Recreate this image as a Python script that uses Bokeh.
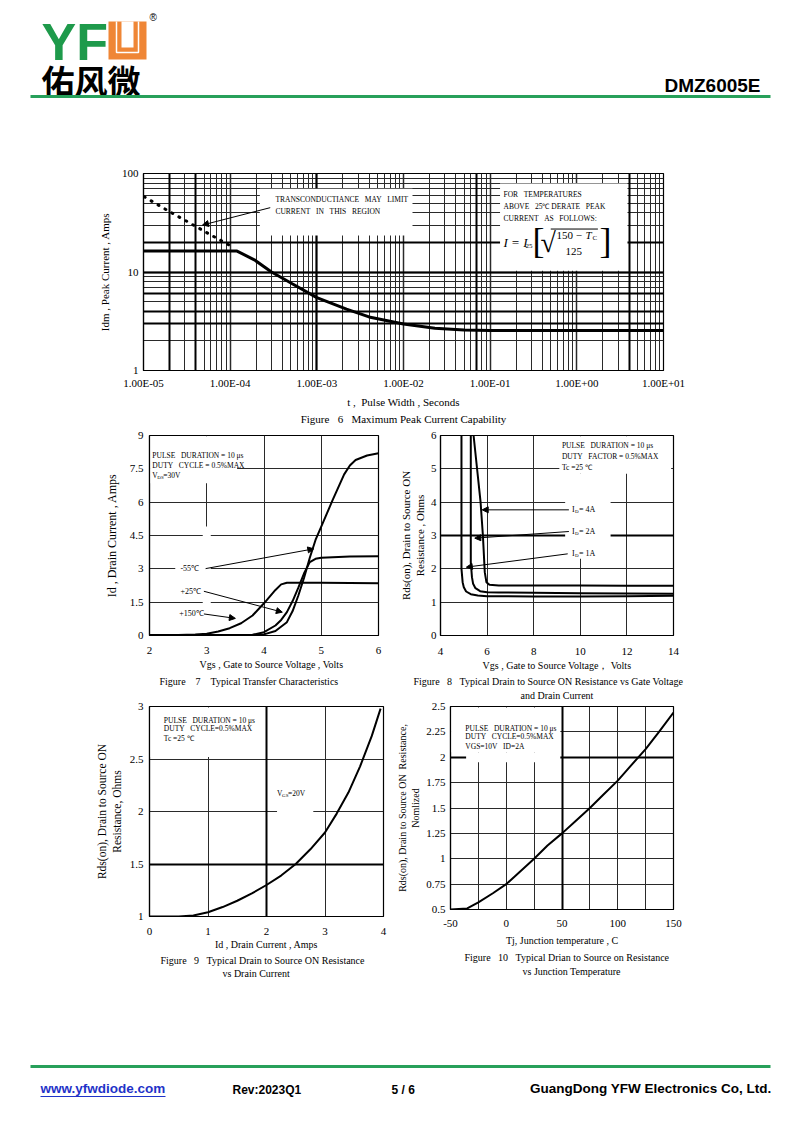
from bokeh.plotting import figure
from bokeh.layouts import column, row
from bokeh.models import (Range1d, FixedTicker, CustomJSTickFormatter, Grid, Title,
                          Arrow, NormalHead)
from bokeh.core.properties import value
from bokeh.embed import file_html
from bokeh.resources import INLINE

SERIF = "Liberation Serif"
SANS = "Liberation Sans"
CJK = "Noto Sans CJK SC"
GRID = "#2a2a2a"
GREEN = "#27a05a"
SP = "\u00a0"

# ---------------- DATA ----------------
# Figure 6 : Maximum peak current capability (log-log)
f6_x_ticks = [1e-5, 1e-4, 1e-3, 1e-2, 1e-1, 1.0, 10.0]
f6_y_ticks = [1, 10, 100]
f6_pulse = [1e-5, 1.2e-4, 1.9e-4, 3e-4, 5.2e-4, 1e-3, 2.2e-3, 4e-3, 1e-2, 2.3e-2, 5e-2, 1e-1, 1.0, 10.0]
f6_idm = [16.3, 16.3, 13.3, 10.0, 7.6, 5.5, 4.2, 3.5, 2.96, 2.68, 2.57, 2.55, 2.55, 2.55]
f6_limit_pulse = [1.02e-5, 2e-5, 5e-5, 1.12e-4]
f6_limit_idm = [58, 41, 26, 17.5]

# Figure 7 : transfer characteristics
f7_x_ticks = [2, 3, 4, 5, 6]
f7_y_ticks = [0, 1.5, 3, 4.5, 6, 7.5, 9]
f7_vgs_m55 = [2.0, 3.8, 4.0, 4.2, 4.4, 4.5, 4.6, 4.7, 4.8, 4.9, 5.0, 5.2, 5.4, 5.5, 5.6, 5.8, 6.0]
f7_id_m55 = [0.02, 0.02, 0.05, 0.2, 0.6, 1.1, 1.8, 2.6, 3.5, 4.3, 4.9, 6.1, 7.25, 7.65, 7.9, 8.1, 8.2]
f7_vgs_25 = [2.0, 3.8, 4.0, 4.2, 4.3, 4.4, 4.5, 4.6, 4.7, 4.8, 4.9, 5.0, 5.5, 6.0]
f7_id_25 = [0.02, 0.03, 0.15, 0.45, 0.7, 1.05, 1.55, 2.15, 2.8, 3.3, 3.45, 3.5, 3.55, 3.57]
f7_vgs_150 = [2.0, 2.5, 2.8, 3.0, 3.2, 3.4, 3.6, 3.8, 4.0, 4.1, 4.2, 4.3, 4.4, 5.0, 6.0]
f7_id_150 = [0.02, 0.02, 0.04, 0.08, 0.18, 0.33, 0.55, 0.9, 1.45, 1.75, 2.05, 2.3, 2.37, 2.37, 2.35]
f7_labels = ["-55\u2103", "+25\u2103", "+150\u2103"]

# Figure 8 : Rds(on) vs Vgs
f8_x_ticks = [4, 6, 8, 10, 12, 14]
f8_y_ticks = [0, 1, 2, 3, 4, 5, 6]
f8_vgs_1a = [4.9, 4.9, 4.95, 5.0, 5.1, 5.3, 5.6, 6.0, 8.0, 10.0, 12.0, 14.0]
f8_r_1a = [6.0, 2.0, 1.6, 1.45, 1.32, 1.24, 1.2, 1.18, 1.17, 1.17, 1.18, 1.19]
f8_vgs_2a = [5.3, 5.3, 5.35, 5.4, 5.5, 5.7, 6.0, 6.5, 8.0, 10.0, 12.0, 14.0]
f8_r_2a = [6.0, 2.2, 1.75, 1.55, 1.42, 1.33, 1.3, 1.29, 1.28, 1.27, 1.26, 1.25]
f8_vgs_4a = [5.42, 5.6, 5.72, 5.82, 5.9, 5.97, 6.1, 6.5, 8.0, 10.0, 12.0, 14.0]
f8_r_4a = [6.0, 4.8, 4.0, 3.0, 1.9, 1.6, 1.52, 1.5, 1.5, 1.5, 1.49, 1.49]
f8_labels = ["4A", "2A", "1A"]

# Figure 9 : Rds(on) vs drain current
f9_x_ticks = [0, 1, 2, 3, 4]
f9_y_ticks = [1, 1.5, 2, 2.5, 3]
f9_id = [0, 0.5, 0.75, 1.0, 1.25, 1.5, 1.75, 2.0, 2.25, 2.5, 2.75, 3.0, 3.2, 3.4, 3.6, 3.8, 3.95]
f9_rds = [1.0, 1.0, 1.01, 1.04, 1.09, 1.15, 1.22, 1.3, 1.39, 1.5, 1.64, 1.8, 1.98, 2.18, 2.43, 2.72, 2.98]

# Figure 10 : normalized Rds(on) vs junction temperature
f10_x_ticks = [-50, 0, 50, 100, 150]
f10_y_ticks = [0.5, 0.75, 1, 1.25, 1.5, 1.75, 2, 2.25, 2.5]
f10_tj = [-50, -35, -25, -12, 0, 12, 25, 37, 50, 62, 75, 87, 100, 112, 125, 137, 150]
f10_rds = [0.5, 0.51, 0.57, 0.66, 0.75, 0.87, 1.0, 1.13, 1.25, 1.37, 1.5, 1.63, 1.77, 1.92, 2.08, 2.25, 2.44]

NUM_CODE = "return String(Math.round(tick*1000)/1000);"
EXP_CODE = """
const e = Math.round(Math.log10(tick));
const s = e < 0 ? '-' : '+';
const a = Math.abs(e);
return '1.00E' + s + (a < 10 ? '0' : '') + a;
"""


def make_chart(w, h, bl, br, bt, bb, xr, yr, xt="linear", yt="linear"):
    p = figure(width=w, height=h, x_range=xr, y_range=yr, x_axis_type=xt, y_axis_type=yt,
               output_backend="svg", toolbar_location=None, title=None,
               min_border_left=bl, min_border_right=br, min_border_top=bt, min_border_bottom=bb)
    p.frame_align = False
    p.outline_line_color = "black"
    p.outline_line_width = 1.2
    p.background_fill_color = "white"
    p.border_fill_color = "white"
    for ax in (p.xaxis[0], p.yaxis[0]):
        ax.axis_line_color = "black"
        ax.axis_line_width = 1.2
        ax.major_tick_line_color = None
        ax.minor_tick_line_color = None
        ax.major_tick_out = 0
        ax.major_tick_in = 0
        ax.minor_tick_out = 0
        ax.minor_tick_in = 0
        ax.major_label_text_font = SERIF
        ax.major_label_text_font_size = "11px"
        ax.major_label_text_color = "black"
        ax.axis_label_text_font = SERIF
        ax.axis_label_text_font_size = "11px"
        ax.axis_label_text_font_style = "normal"
        ax.axis_label_text_color = "black"
    for g in (p.xgrid[0], p.ygrid[0]):
        g.grid_line_color = GRID
        g.grid_line_width = 1
    return p


def page_fig(h, y0):
    p = figure(width=800, height=h, x_range=Range1d(0, 800), y_range=Range1d(y0 + h, y0),
               output_backend="svg", toolbar_location=None, title=None, min_border=0,
               x_axis_location=None, y_axis_location=None)
    p.frame_align = False
    p.outline_line_color = None
    p.grid.visible = False
    return p


def thick_grid(p, dim, ticks, width=2.0):
    p.add_layout(Grid(dimension=dim, ticker=FixedTicker(ticks=ticks),
                      grid_line_color="black", grid_line_width=width))


def caption(p, text, offset=0, standoff=2, size="10px", align="center"):
    p.add_layout(Title(text=text, align=align, offset=offset, standoff=standoff,
                       text_font=SERIF, text_font_size=size, text_font_style="normal",
                       text_color="black"), "below")


def txt(p, x, y, s, size="7.5px", xo=0, yo=0, align="left", style="normal",
        font=SERIF, baseline="middle", color="black"):
    p.text(x=[x], y=[y], text=[s], x_offset=xo, y_offset=yo, text_font=value(font),
           text_font_size=value(size), text_font_style=style, text_align=align,
           text_baseline=baseline, text_color=color)


def arrow(p, x0, y0, x1, y1):
    p.add_layout(Arrow(x_start=x0, y_start=y0, x_end=x1, y_end=y1, line_color="black",
                       line_width=1,
                       end=NormalHead(size=6, fill_color="black", line_color="black",
                                      line_width=1)))


def blank(p, l, r, b, t):
    p.quad(left=[l], right=[r], bottom=[b], top=[t], fill_color="white", line_color=None)


def gap(n):
    return SP * n


# ---------------- header (page pixels) ----------------
hd = page_fig(160, 0)
txt(hd, 41, 41, "YF", size="52px", style="bold", font=SANS, color="#1e9a4b")
hd.quad(left=[108], right=[146], top=[21], bottom=[59], fill_color="#ef8636", line_color=None)
hd.quad(left=[121], right=[133], top=[21], bottom=[47], fill_color="white", line_color=None)
hd.multi_line(xs=[[116, 116, 138, 138]], ys=[[21, 52, 52, 21]], line_color="white",
              line_width=1.5)
txt(hd, 149, 17, "\u00ae", size="10px", font=SANS)
txt(hd, 41, 79, "佑风微", size="33px", style="bold", font=CJK)
txt(hd, 760, 85, "DMZ6005E", size="19px", style="bold", font=SANS, align="right")
hd.segment(x0=[30], y0=[96], x1=[770], y1=[96], line_color=GREEN, line_width=3)

# ---------------- figure 6 ----------------
p6 = make_chart(800, 268, 143, 137, 13, 58, Range1d(1e-5, 10), Range1d(1, 100), "log", "log")
p6.xaxis.ticker = FixedTicker(ticks=f6_x_ticks)
p6.xaxis.formatter = CustomJSTickFormatter(code=EXP_CODE)
p6.yaxis.ticker = FixedTicker(ticks=f6_y_ticks)
p6.yaxis.formatter = CustomJSTickFormatter(code="return String(Math.round(tick));")
f6_xminor = [m * 10.0 ** e for e in range(-5, 1) for m in range(2, 10)]
f6_yminor = [m * 10.0 ** e for e in range(0, 2) for m in range(2, 10)]
p6.xgrid.ticker = FixedTicker(ticks=f6_x_ticks, minor_ticks=f6_xminor)
p6.ygrid.ticker = FixedTicker(ticks=f6_y_ticks, minor_ticks=f6_yminor)
p6.xgrid.minor_grid_line_color = GRID
p6.ygrid.minor_grid_line_color = GRID
p6.xgrid.grid_line_width = 1.5
p6.ygrid.grid_line_width = 1.5
thick_grid(p6, 0, [2e-5, 4e-5, 1e-3, 7e-2, 4.0])
thick_grid(p6, 1, [3, 4, 6, 20, 10])
p6.xaxis.axis_label = "t ," + gap(2) + "Pulse Width , Seconds"
p6.yaxis.axis_label = "Idm , Peak Current , Amps"
p6.xaxis.major_label_standoff = 6
p6.xaxis.axis_label_standoff = 4
p6.yaxis.major_label_standoff = 5
p6.yaxis.axis_label_standoff = 8
caption(p6, "Figure" + gap(3) + "6" + gap(3) + "Maximum Peak Current Capability",
        standoff=1, size="11px")
blank(p6, 2.2e-4, 1.27e-2, 23.5, 70)
blank(p6, 0.13, 3.84, 10.3, 79)
p6.line(f6_limit_pulse, f6_limit_idm, line_color="black", line_width=3, line_dash="1 7",
        line_cap="round")
p6.line(f6_pulse, f6_idm, line_color="black", line_width=3)
txt(p6, 3.33e-4, 54.5, "TRANSCONDUCTIANCE" + gap(3) + "MAY" + gap(3) + "LIMIT")
txt(p6, 3.33e-4, 41.1, "CURRENT" + gap(3) + "IN" + gap(3) + "THIS" + gap(3) + "REGION")
arrow(p6, 2.9e-4, 45, 4.8e-5, 30)
txt(p6, 0.1426, 61.2, "FOR" + gap(3) + "TEMPERATURES")
txt(p6, 0.1426, 46.2, "ABOVE" + gap(3) + "25\u2103 DERATE" + gap(3) + "PEAK")
txt(p6, 0.1426, 34.9, "CURRENT" + gap(3) + "AS" + gap(3) + "FOLLOWS:")
fx, fy = 0.1426, 20.9
txt(p6, fx, fy, "I = I", size="13px", style="italic", yo=2)
txt(p6, fx, fy, "25", size="7px", xo=22, yo=6)
txt(p6, fx, fy, "[", size="36px", xo=29, yo=1)
txt(p6, fx, fy, "\u221a", size="28px", xo=37, yo=2)
txt(p6, fx, fy, "150 \u2212 ", size="11px", xo=53, yo=-5)
txt(p6, fx, fy, "T", size="11px", xo=82, yo=-5, style="italic")
txt(p6, fx, fy, "C", size="7px", xo=89, yo=-2)
txt(p6, fx, fy, "125", size="11px", xo=62, yo=11)
txt(p6, fx, fy, "]", size="36px", xo=96, yo=1)
p6.segment(x0=[0.5], y0=[27.3], x1=[1.75], y1=[27.3], line_color="black", line_width=1)

# ---------------- figure 7 ----------------
p7 = make_chart(396, 272, 149, 18, 7, 65, Range1d(2, 6), Range1d(0, 9))
p7.xaxis.ticker = FixedTicker(ticks=f7_x_ticks)
p7.yaxis.ticker = FixedTicker(ticks=f7_y_ticks)
p7.xaxis.formatter = CustomJSTickFormatter(code=NUM_CODE)
p7.yaxis.formatter = CustomJSTickFormatter(code=NUM_CODE)
p7.xgrid.ticker = FixedTicker(ticks=[3, 4, 5])
p7.ygrid.ticker = FixedTicker(ticks=[1.5, 3, 4.5, 6, 7.5])
p7.xaxis.axis_label = gap(6) + "Vgs , Gate to Source Voltage , Volts"
p7.yaxis.axis_label = "Id , Drain Current , Amps"
p7.xaxis.axis_label_text_font_size = "10px"
p7.yaxis.axis_label_text_font_size = "12px"
p7.xaxis.major_label_standoff = 11
p7.xaxis.axis_label_standoff = 2
p7.yaxis.major_label_standoff = 6
p7.yaxis.axis_label_standoff = 8
caption(p7, "Figure" + gap(4) + "7" + gap(4) + "Typical Transfer Characteristics",
        align="left", offset=10)
blank(p7, 2.01, 3.53, 6.85, 8.97)
blank(p7, 2.93, 3.07, 0.03, 4.9)
blank(p7, 2.45, 2.97, 2.8, 3.2)
p7.line(f7_vgs_150, f7_id_150, line_color="black", line_width=2)
p7.line(f7_vgs_25, f7_id_25, line_color="black", line_width=2)
p7.line(f7_vgs_m55, f7_id_m55, line_color="black", line_width=2)
txt(p7, 2.05, 8.09, "PULSE" + gap(3) + "DURATION = 10 \u03bcs")
txt(p7, 2.05, 7.64, "DUTY" + gap(3) + "CYCLE = 0.5%MAX")
txt(p7, 2.05, 7.22, "V")
txt(p7, 2.05, 7.22, "DS", size="5px", xo=5, yo=2)
txt(p7, 2.05, 7.22, "=30V", xo=11)
txt(p7, 2.54, 3.0, f7_labels[0], size="8px")
txt(p7, 2.54, 2.0, f7_labels[1], size="8px")
txt(p7, 2.52, 0.97, f7_labels[2], size="8px")
arrow(p7, 2.98, 3.01, 4.87, 3.9)
arrow(p7, 2.95, 1.99, 4.32, 1.05)
arrow(p7, 2.95, 0.97, 3.5, 0.77)

# ---------------- figure 8 ----------------
p8 = make_chart(404, 272, 43, 127, 7, 65, Range1d(4, 14), Range1d(0, 6))
p8.xaxis.ticker = FixedTicker(ticks=f8_x_ticks)
p8.yaxis.ticker = FixedTicker(ticks=f8_y_ticks)
p8.xaxis.formatter = CustomJSTickFormatter(code=NUM_CODE)
p8.yaxis.formatter = CustomJSTickFormatter(code=NUM_CODE)
p8.xgrid.ticker = FixedTicker(ticks=[6, 8, 10, 12])
p8.ygrid.ticker = FixedTicker(ticks=[1, 2, 3, 4, 5])
thick_grid(p8, 1, [3])
p8.xaxis.axis_label = "Vgs , Gate to Source Voltage\uff0c Volts"
p8.yaxis.axis_label = "Rds(on), Drain to Source ON\nResistance , Ohms"
p8.xaxis.axis_label_text_font_size = "10px"
p8.xaxis.major_label_standoff = 12
p8.xaxis.axis_label_standoff = 2
p8.yaxis.major_label_standoff = 4
p8.yaxis.axis_label_standoff = 2
caption(p8, "Figure" + gap(3) + "8" + gap(3) + "Typical Drain to Source ON Resistance vs Gate Voltage",
        align="left", offset=-27, standoff=1)
caption(p8, "and Drain Current", standoff=0)
blank(p8, 9.1, 13.9, 4.85, 5.98)
blank(p8, 9.35, 11.3, 2.3, 4.85)
p8.line(f8_vgs_1a, f8_r_1a, line_color="black", line_width=2)
p8.line(f8_vgs_2a, f8_r_2a, line_color="black", line_width=2)
p8.line(f8_vgs_4a, f8_r_4a, line_color="black", line_width=2)
txt(p8, 9.21, 5.70, "PULSE" + gap(3) + "DURATION = 10 \u03bcs")
txt(p8, 9.21, 5.38, "DUTY" + gap(3) + "FACTOR = 0.5%MAX")
txt(p8, 9.21, 5.04, "Tc =25 \u2103")
for lab, yy in zip(f8_labels, [3.77, 3.12, 2.47]):
    txt(p8, 9.64, yy, "I", size="8px")
    txt(p8, 9.64, yy, "D", size="5px", xo=3, yo=2)
    txt(p8, 9.64, yy, "= " + lab, size="8px", xo=7)
arrow(p8, 9.51, 3.77, 5.79, 3.77)
arrow(p8, 9.51, 3.12, 5.47, 2.92)
arrow(p8, 9.46, 2.45, 5.11, 2.05)

# ---------------- figure 9 ----------------
p9 = make_chart(394, 292, 149, 11, 6, 76, Range1d(0, 4), Range1d(1, 3))
p9.xaxis.ticker = FixedTicker(ticks=f9_x_ticks)
p9.yaxis.ticker = FixedTicker(ticks=f9_y_ticks)
p9.xaxis.formatter = CustomJSTickFormatter(code=NUM_CODE)
p9.yaxis.formatter = CustomJSTickFormatter(code=NUM_CODE)
p9.xgrid.ticker = FixedTicker(ticks=[1, 2, 3])
p9.ygrid.ticker = FixedTicker(ticks=[1.5, 2, 2.5])
thick_grid(p9, 0, [2])
thick_grid(p9, 1, [1.5])
p9.xaxis.axis_label = "Id , Drain Current , Amps"
p9.yaxis.axis_label = "Rds(on), Drain to Source ON\nResistance, Ohms"
p9.xaxis.axis_label_text_font_size = "10px"
p9.yaxis.axis_label_text_font_size = "11.5px"
p9.xaxis.major_label_standoff = 11
p9.xaxis.axis_label_standoff = 1
p9.yaxis.major_label_standoff = 6
p9.yaxis.axis_label_standoff = 4
caption(p9, "Figure" + gap(3) + "9" + gap(3) + "Typical Drain to Source ON Resistance",
        align="left", offset=11, standoff=0)
caption(p9, "vs Drain Current", align="left", offset=73, standoff=0)
blank(p9, 0.01, 1.9, 2.52, 2.99)
blank(p9, 2.18, 2.8, 1.93, 2.3)
p9.line(f9_id, f9_rds, line_color="black", line_width=2)
txt(p9, 0.245, 2.87, "PULSE" + gap(3) + "DURATION = 10 \u03bcs")
txt(p9, 0.245, 2.79, "DUTY" + gap(3) + "CYCLE=0.5%MAX")
txt(p9, 0.245, 2.70, "Tc =25 \u2103")
txt(p9, 2.18, 2.17, "V")
txt(p9, 2.18, 2.17, "GS", size="5px", xo=5, yo=2)
txt(p9, 2.18, 2.17, "=20V", xo=11)

# ---------------- figure 10 ----------------
p10 = make_chart(406, 292, 49, 127, 6, 83, Range1d(-50, 150), Range1d(0.5, 2.5))
p10.xaxis.ticker = FixedTicker(ticks=f10_x_ticks)
p10.yaxis.ticker = FixedTicker(ticks=f10_y_ticks)
p10.xaxis.formatter = CustomJSTickFormatter(code=NUM_CODE)
p10.yaxis.formatter = CustomJSTickFormatter(code=NUM_CODE)
p10.xgrid.ticker = FixedTicker(ticks=[-25, 0, 25, 50, 75, 100, 125])
p10.ygrid.ticker = FixedTicker(ticks=[0.75, 1, 1.25, 1.5, 1.75, 2, 2.25])
thick_grid(p10, 0, [50])
thick_grid(p10, 1, [2])
p10.xaxis.axis_label = "Tj, Junction temperature , C"
p10.yaxis.axis_label = "Rds(on), Drain to Source ON" + gap(2) + "Resistance,\nNomlized"
p10.xaxis.axis_label_text_font_size = "10px"
p10.yaxis.axis_label_text_font_size = "10px"
p10.xaxis.major_label_standoff = 10
p10.xaxis.axis_label_standoff = 5
p10.yaxis.major_label_standoff = 5
p10.yaxis.axis_label_standoff = 2
caption(p10, "Figure" + gap(3) + "10" + gap(3) + "Typical Drian to Source on Resistance",
        align="left", offset=14, standoff=2)
caption(p10, "vs Junction Temperature", align="left", offset=72, standoff=0)
blank(p10, -49.5, 48.5, 2.05, 2.49)
blank(p10, -36, 48.5, 1.95, 2.05)
p10.line(f10_tj, f10_rds, line_color="black", line_width=2)
txt(p10, -36.7, 2.28, "PULSE" + gap(3) + "DURATION = 10 \u03bcs")
txt(p10, -36.7, 2.20, "DUTY" + gap(3) + "CYCLE=0.5%MAX")
txt(p10, -36.7, 2.11, "VGS=10V" + gap(3) + "ID=2A")

# ---------------- footer (page pixels) ----------------
ft = page_fig(128, 994)
ft.segment(x0=[30], y0=[1068], x1=[770], y1=[1068], line_color=GREEN, line_width=3)
txt(ft, 40, 1090, "www.yfwdiode.com", size="13.5px", style="bold", font=SANS, color="#1f33c8")
ft.segment(x0=[40], y0=[1098], x1=[165], y1=[1098], line_color="#1f33c8", line_width=1)
txt(ft, 232, 1091, "Rev:2023Q1", size="12px", style="bold", font=SANS)
txt(ft, 391, 1091, "5 / 6", size="12px", style="bold", font=SANS)
txt(ft, 771, 1090, "GuangDong YFW Electronics Co, Ltd.", size="13.5px", style="bold",
    font=SANS, align="right")

layout = column(hd, p6, row(p7, p8), row(p9, p10), ft)
open("out.html", "w").write(file_html(layout, INLINE))
